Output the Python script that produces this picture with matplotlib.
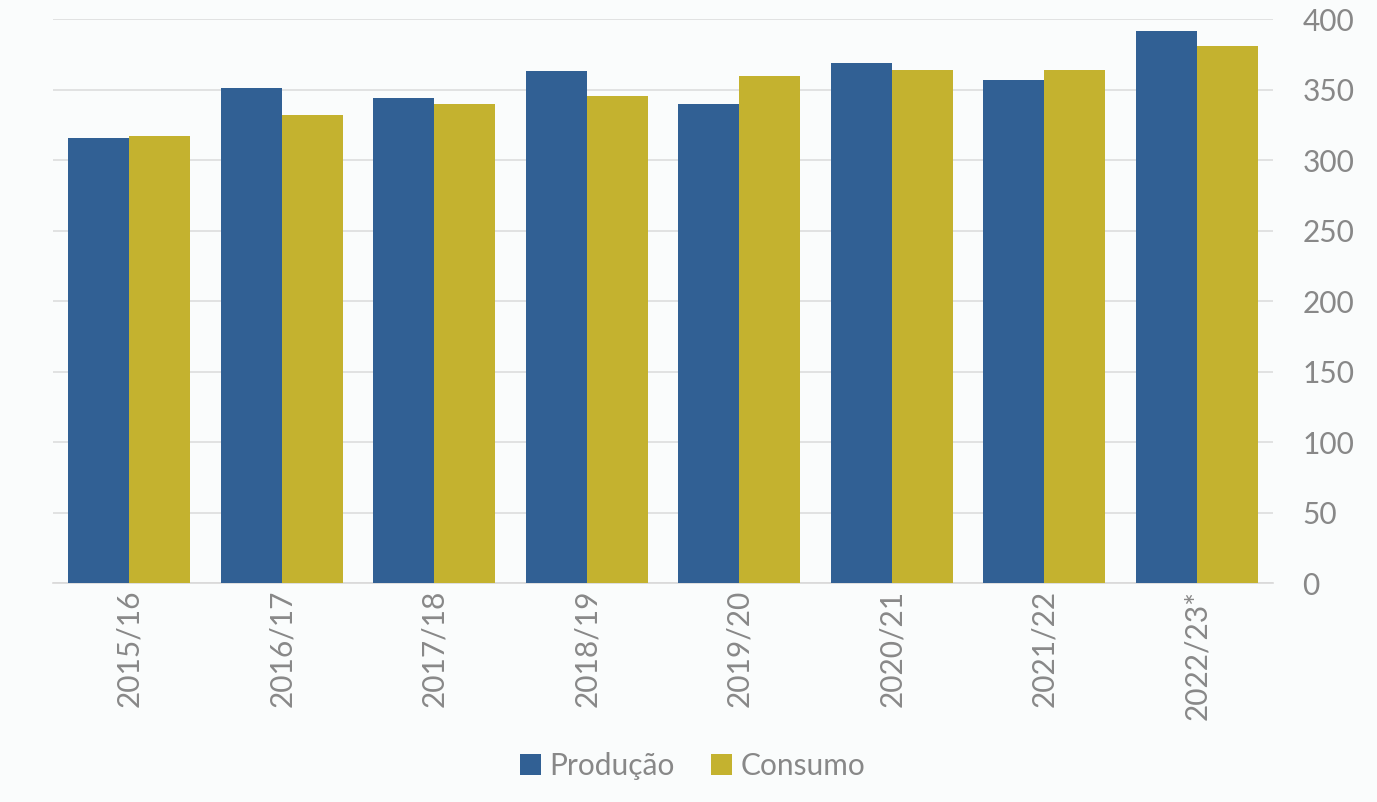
import matplotlib.pyplot as plt
import numpy as np

safras = ["2015/16", "2016/17", "2017/18", "2018/19", "2019/20", "2020/21", "2021/22", "2022/23*"]
producao = [315.6, 351, 344, 363, 339.7, 368.8, 356.7, 391.5]
consumo = [317, 332, 339.7, 345.4, 359.6, 363.8, 363.8, 380.9]

azul = "#316094"
dourado = "#c4b22f"
cinza = "#888888"
fundo = "#fafcfc"

plt.rcParams['font.family'] = ['Lato', 'DejaVu Sans']

fig = plt.figure(figsize=(13.77, 8.02), dpi=100, facecolor=fundo)
ax = fig.add_axes([0.0385, 0.273, 0.886, 0.703], facecolor=fundo)

x = np.arange(len(safras))
w = 0.4
ax.bar(x - w / 2, producao, w, color=azul, label="Produção", zorder=3)
ax.bar(x + w / 2, consumo, w, color=dourado, label="Consumo", zorder=3)

ax.set_xlim(-0.5, len(safras) - 0.5)
ax.set_ylim(0, 400)
ax.set_yticks(range(0, 401, 50))
ax.yaxis.tick_right()
ax.grid(axis="y", color="#dddddd", linewidth=1.2, zorder=0)
ax.set_xticks(x)
ax.set_xticklabels(safras, rotation=90)
ax.tick_params(length=0, labelsize=21.5, colors=cinza)
ax.tick_params(axis="y", pad=21)
ax.tick_params(axis="x", pad=5)
for s in ["top", "left", "right"]:
    ax.spines[s].set_visible(False)
ax.spines["bottom"].set_color("#d9d9d9")
ax.spines["bottom"].set_linewidth(1.2)

leg = fig.legend(loc="center", bbox_to_anchor=(0.503, 0.045), ncol=2, frameon=False,
                 fontsize=21.5, handlelength=0.7, handleheight=0.7, handletextpad=0.3,
                 columnspacing=1.2)
for t in leg.get_texts():
    t.set_color(cinza)

fig.savefig("out.png", dpi=100, facecolor=fundo)
